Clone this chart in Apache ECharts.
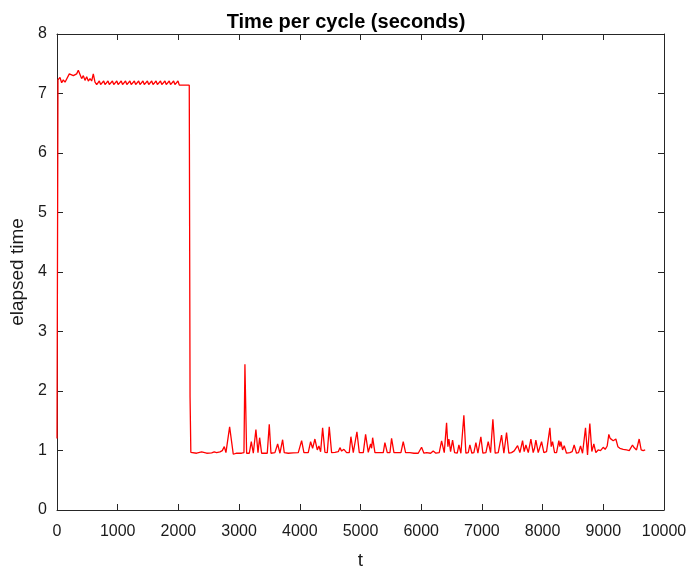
<!DOCTYPE html>
<html>
<head>
<meta charset="utf-8">
<script src="https://cdn.jsdelivr.net/npm/echarts@6/dist/echarts.min.js"></script>
<style>
  html, body { margin: 0; padding: 0; background: #fff; }
  #chart { width: 692px; height: 575px; }
</style>
</head>
<body>
<div id="chart"></div>
<script>
// Chart text
const chartTitle = 'Time per cycle (seconds)';
const xName = 't';
const yName = 'elapsed time';

// Axis ranges and tick steps
const xRange = [0, 10000, 1000];
const yRange = [0, 8, 1];

// Start-up: climb to ~7.2 s and early jitter
const warmupPhase = [
  [0, 1.2], [16, 7.23], [49, 7.27], [77, 7.18], [104, 7.23], [132, 7.19],
  [159, 7.22], [203, 7.33], [231, 7.32], [269, 7.30], [296, 7.28], [324, 7.33],
  [351, 7.39], [379, 7.32], [406, 7.25], [434, 7.30], [461, 7.22], [489, 7.28],
  [516, 7.21], [544, 7.25], [571, 7.21], [598, 7.33], [626, 7.19], [654, 7.15]
];

// Slow regime: steady ~7.15 s with small periodic bumps
const slowPhase = [
  [675, 7.15], [697, 7.21], [719, 7.15], [747, 7.15], [769, 7.21], [791, 7.15],
  [818, 7.15], [840, 7.21], [862, 7.15], [891, 7.15], [913, 7.21], [935, 7.15],
  [963, 7.15], [985, 7.21], [1007, 7.15], [1036, 7.15], [1058, 7.21], [1080, 7.15],
  [1107, 7.15], [1129, 7.21], [1151, 7.15], [1179, 7.15], [1201, 7.21], [1223, 7.15],
  [1252, 7.15], [1274, 7.21], [1296, 7.15], [1323, 7.15], [1345, 7.21], [1367, 7.15],
  [1394, 7.15], [1416, 7.21], [1438, 7.15], [1467, 7.15], [1489, 7.21], [1511, 7.15],
  [1538, 7.15], [1560, 7.21], [1582, 7.15], [1610, 7.15], [1632, 7.21], [1654, 7.15],
  [1683, 7.15], [1705, 7.21], [1727, 7.15], [1756, 7.15], [1778, 7.21], [1800, 7.15],
  [1827, 7.15], [1849, 7.21], [1871, 7.15], [1899, 7.15], [1921, 7.21], [1943, 7.15],
  [1971, 7.15], [1993, 7.21], [2015, 7.14], [2179, 7.14], [2192, 1.9]
];

// Fast regime: ~0.96 s with occasional spikes
const fastPhase = [
  [2205, 0.97], [2218, 0.965], [2300, 0.954], [2383, 0.976], [2466, 0.954], [2548, 0.96],
  [2590, 0.976], [2630, 0.965], [2685, 0.976], [2723, 0.998], [2756, 1.065], [2783, 0.965],
  [2844, 1.398], [2904, 0.937], [2959, 0.954], [3041, 0.954], [3080, 0.965], [3096, 2.45],
  [3124, 0.954], [3168, 0.954], [3201, 1.148], [3234, 0.954], [3277, 1.353], [3311, 0.965],
  [3338, 1.215], [3371, 0.954], [3426, 0.954], [3464, 0.954], [3497, 1.442], [3525, 0.954],
  [3590, 0.965], [3635, 1.109], [3673, 0.954], [3717, 1.181], [3744, 0.965], [3810, 0.954],
  [3892, 0.96], [3975, 0.965], [4030, 1.165], [4068, 0.965], [4139, 0.965], [4178, 1.148],
  [4211, 1.037], [4249, 1.193], [4288, 1.009], [4315, 1.076], [4343, 0.98], [4376, 1.38],
  [4414, 0.97], [4453, 0.965], [4485, 1.398], [4524, 0.965], [4579, 0.97], [4634, 0.98],
  [4661, 1.048], [4689, 0.99], [4727, 1.02], [4771, 0.965], [4815, 0.965], [4842, 1.232],
  [4881, 0.965], [4908, 0.965], [4941, 1.315], [4980, 0.965], [5046, 0.965], [5084, 1.27],
  [5128, 0.97], [5166, 1.109], [5183, 1.037], [5200, 1.215], [5238, 0.965], [5320, 0.965],
  [5375, 0.965], [5402, 1.131], [5441, 0.965], [5485, 0.965], [5512, 1.204], [5551, 0.965],
  [5622, 0.965], [5666, 0.965], [5704, 1.148], [5743, 0.965], [5759, 0.954], [5814, 0.965],
  [5842, 0.993], [5880, 0.954], [5951, 0.954], [6006, 1.054], [6045, 0.954], [6089, 0.965],
  [6116, 0.993], [6155, 0.954], [6198, 0.993], [6242, 0.954], [6297, 0.965], [6336, 1.16],
  [6380, 0.965], [6418, 1.464], [6440, 1.065], [6456, 1.193], [6484, 0.982], [6517, 1.176],
  [6550, 0.965], [6594, 0.954], [6621, 1.093], [6654, 0.954], [6681, 0.965], [6703, 1.592],
  [6736, 0.954], [6775, 0.965], [6802, 1.093], [6835, 0.954], [6868, 0.965], [6901, 1.131],
  [6934, 0.954], [6956, 0.982], [6983, 1.231], [7016, 0.954], [7066, 0.965], [7104, 1.148],
  [7143, 0.965], [7181, 1.525], [7219, 0.954], [7269, 0.965], [7324, 1.259], [7362, 0.954],
  [7406, 1.303], [7444, 0.954], [7488, 0.965], [7532, 0.993], [7559, 0.965], [7588, 1.082],
  [7626, 0.965], [7670, 1.165], [7697, 0.982], [7725, 1.093], [7764, 0.965], [7807, 1.193],
  [7845, 0.965], [7867, 1.037], [7889, 1.176], [7928, 0.965], [7955, 0.982], [7983, 1.148],
  [8021, 0.965], [8065, 0.982], [8093, 0.965], [8120, 1.381], [8142, 1.065], [8164, 1.148],
  [8197, 0.965], [8230, 0.965], [8268, 1.165], [8285, 1.065], [8301, 1.148], [8329, 1.009],
  [8356, 1.082], [8394, 0.954], [8449, 0.965], [8487, 0.982], [8520, 1.093], [8559, 0.954],
  [8592, 0.965], [8625, 1.076], [8658, 0.954], [8680, 0.965], [8707, 1.381], [8740, 0.926],
  [8778, 1.453], [8811, 0.982], [8844, 1.109], [8877, 0.965], [8915, 1.009], [8954, 0.998],
  [8998, 1.054], [9031, 1.02], [9064, 1.076], [9091, 1.27], [9113, 1.204], [9136, 1.231],
  [9163, 1.165], [9207, 1.193], [9240, 1.065], [9273, 1.037], [9328, 1.02], [9383, 1.009],
  [9427, 0.998], [9454, 1.026], [9481, 1.093], [9503, 1.054], [9520, 1.076], [9547, 1.009],
  [9591, 1.193], [9624, 1.009], [9657, 0.998], [9690, 1.009]
];

const seriesData = warmupPhase.concat(slowPhase, fastPhase);

const axisColor = '#262626';
const fontFamily = '"Liberation Sans", Arial, Helvetica, sans-serif';

const chart = echarts.init(document.getElementById('chart'), null, { renderer: 'canvas' });

function boxAxis(range, showLabels, extra) {
  return Object.assign({
    type: 'value',
    min: range[0],
    max: range[1],
    interval: range[2],
    axisLine: { show: true, onZero: false, lineStyle: { color: axisColor, width: 1 } },
    axisTick: { show: true, inside: true, length: 6, lineStyle: { color: axisColor, width: 1 } },
    axisLabel: { show: showLabels, color: '#1a1a1a', fontSize: 16, fontFamily: fontFamily },
    splitLine: { show: false }
  }, extra || {});
}

chart.setOption({
  backgroundColor: '#ffffff',
  animation: false,
  title: {
    text: chartTitle,
    left: 'center',
    top: 7,
    textStyle: { fontSize: 20, fontWeight: 'bold', color: '#000', fontFamily: fontFamily }
  },
  grid: { left: 57, right: 28, top: 34, bottom: 59, containLabel: false },
  xAxis: [
    boxAxis(xRange, true, {
      position: 'bottom',
      name: xName,
      nameLocation: 'middle',
      nameGap: 41,
      nameTextStyle: { fontSize: 19, color: '#1a1a1a', fontFamily: fontFamily },
      axisLabel: {
        show: true, color: '#1a1a1a', fontSize: 16, fontFamily: fontFamily, margin: 14,
        formatter: function (v) { return String(v); }
      }
    }),
    boxAxis(xRange, false, { position: 'top' })
  ],
  yAxis: [
    boxAxis(yRange, true, {
      position: 'left',
      name: yName,
      nameLocation: 'middle',
      nameGap: 25,
      nameTextStyle: { fontSize: 19, color: '#1a1a1a', fontFamily: fontFamily },
      axisLabel: { show: true, color: '#1a1a1a', fontSize: 16, fontFamily: fontFamily, margin: 10 }
    }),
    boxAxis(yRange, false, { position: 'right' })
  ],
  series: [{
    type: 'line',
    data: seriesData,
    xAxisIndex: 0,
    yAxisIndex: 0,
    showSymbol: false,
    symbol: 'none',
    lineStyle: { color: '#ff0000', width: 1.3 },
    clip: true
  }]
});
</script>
</body>
</html>
